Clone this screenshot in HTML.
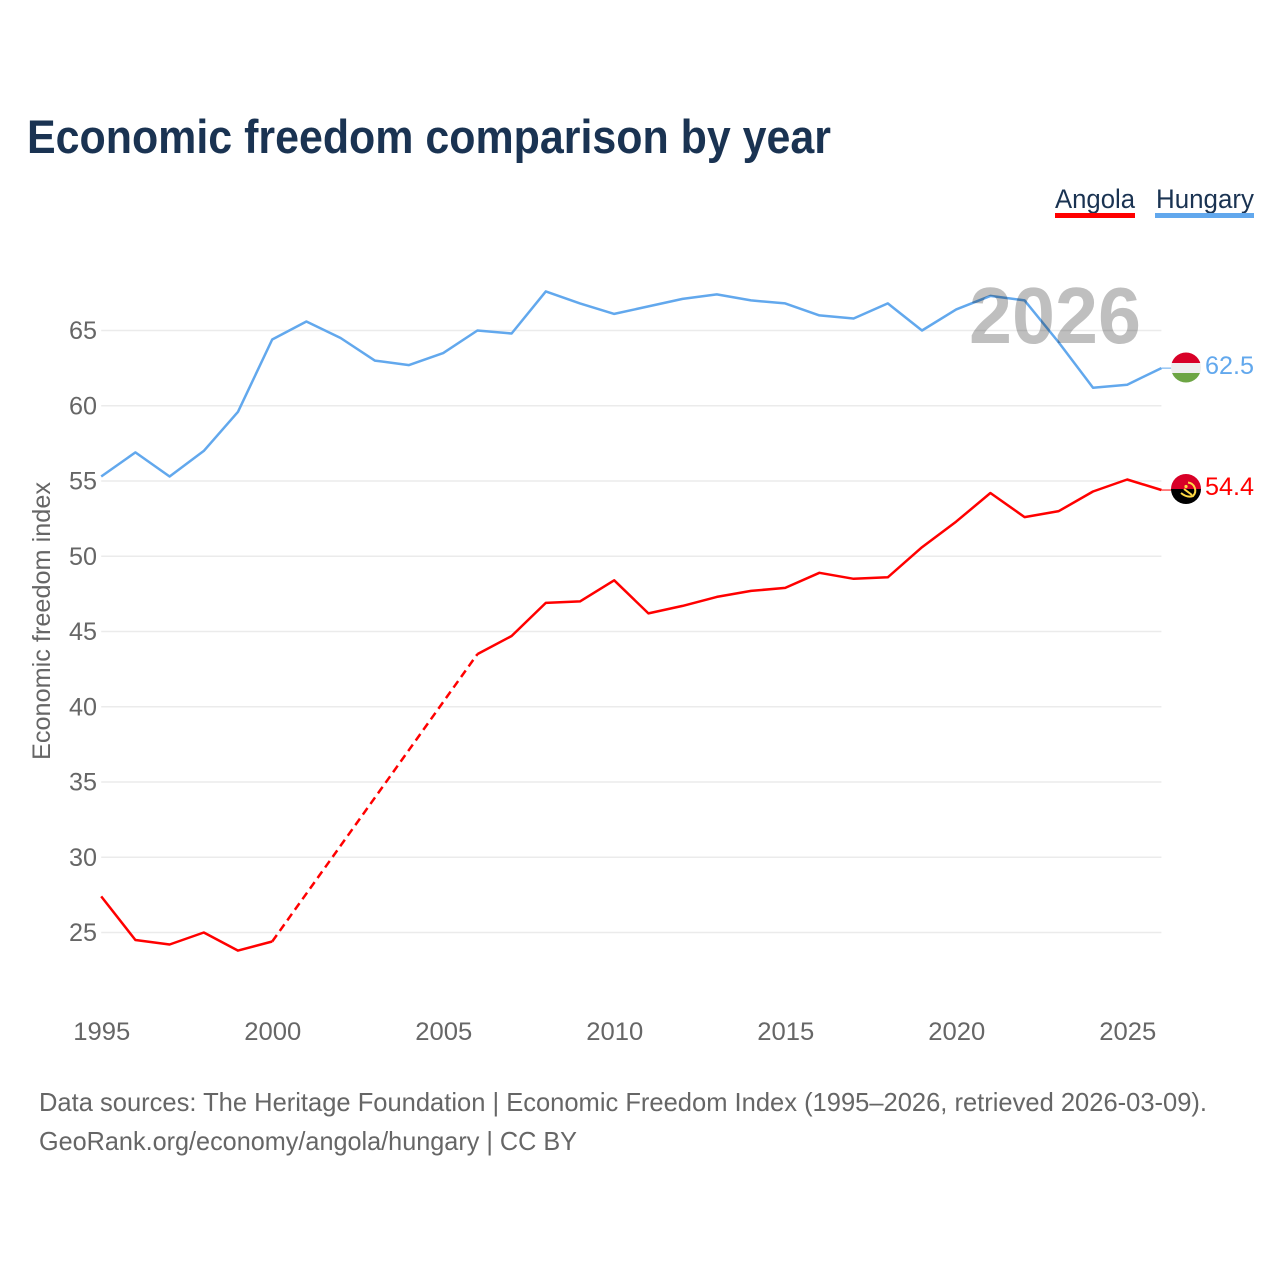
<!DOCTYPE html>
<html lang="en">
<head>
<meta charset="utf-8">
<title>Economic freedom comparison by year</title>
<style>
html,body{margin:0;padding:0;background:#fff;width:1280px;height:1280px;overflow:hidden}
svg{display:block}
text{font-family:"Liberation Sans",sans-serif}
</style>
</head>
<body>
<svg id="chart" width="1280" height="1280" viewBox="0 0 1280 1280" xmlns="http://www.w3.org/2000/svg">
  <defs>
    <clipPath id="clip-hu"><circle cx="1186" cy="367.5" r="15"/></clipPath>
    <clipPath id="clip-ao"><circle cx="1186" cy="489" r="15"/></clipPath>
  </defs>
  <text x="27" y="153" font-size="47" font-weight="700" fill="#1a3352" textLength="804" lengthAdjust="spacingAndGlyphs">Economic freedom comparison by year</text>

  <g>
    <g>
      <text x="1055" y="208" font-size="27" fill="#1a3352" textLength="80" lengthAdjust="spacingAndGlyphs">Angola</text>
      <rect x="1055" y="213" width="80" height="5" fill="#ff0000"/>
    </g>
    <g>
      <text x="1156" y="208" font-size="27" fill="#1a3352" textLength="98" lengthAdjust="spacingAndGlyphs">Hungary</text>
      <rect x="1155" y="213" width="99" height="5" fill="#62a8ed"/>
    </g>
  </g>

  <g id="grid"></g>
  <g id="y-ticks"></g>
  <g id="x-ticks"></g>
  <text transform="translate(50,621) rotate(-90)" text-anchor="middle" font-size="25" fill="#666" textLength="278" lengthAdjust="spacingAndGlyphs">Economic freedom index</text>

  <g id="series"></g>

  <text x="1141" y="343" text-anchor="end" font-size="80" font-weight="700" fill="#000" fill-opacity="0.25" textLength="172" lengthAdjust="spacingAndGlyphs">2026</text>

  <g clip-path="url(#clip-hu)">
    <rect x="1170" y="352" width="32" height="11" fill="#d80027"/>
    <rect x="1170" y="363" width="32" height="10" fill="#eeeeee"/>
    <rect x="1170" y="373" width="32" height="11" fill="#6da544"/>
  </g>
  <g clip-path="url(#clip-ao)">
    <rect x="1170" y="473" width="32" height="16" fill="#d80027"/>
    <rect x="1170" y="489" width="32" height="17" fill="#000000"/>
    <path d="M1188 482.500 A8 8 0 0 1 1193 496 Q1187 498 1181 493" fill="none" stroke="#ffda44" stroke-width="2"/>
    <path d="M1184 489 L1192 495" fill="none" stroke="#ffda44" stroke-width="2"/>
    <circle cx="1186" cy="486.500" r="1.600" fill="#ffda44"/>
  </g>
  <text x="1205" y="374" font-size="25" fill="#62a8ed" textLength="49" lengthAdjust="spacingAndGlyphs">62.5</text>
  <text x="1205" y="495" font-size="25" fill="#ff0000" textLength="49" lengthAdjust="spacingAndGlyphs">54.4</text>

  <text x="39" y="1111" font-size="26" fill="#666" textLength="1168" lengthAdjust="spacingAndGlyphs">Data sources: The Heritage Foundation | Economic Freedom Index (1995–2026, retrieved 2026-03-09).</text>
  <text x="39" y="1150" font-size="26" fill="#666" textLength="538" lengthAdjust="spacingAndGlyphs">GeoRank.org/economy/angola/hungary | CC BY</text>
</svg>
<script>
const years = [1995,1996,1997,1998,1999,2000,2001,2002,2003,2004,2005,2006,2007,2008,2009,2010,2011,2012,2013,2014,2015,2016,2017,2018,2019,2020,2021,2022,2023,2024,2025,2026];
const hungary = [55.3,56.9,55.3,57.0,59.6,64.4,65.6,64.5,63.0,62.7,63.5,65.0,64.8,67.6,66.8,66.1,66.6,67.1,67.4,67.0,66.8,66.0,65.8,66.8,65.0,66.4,67.3,67.0,64.2,61.2,61.4,62.5];
const angola = [27.4,24.5,24.2,25.0,23.8,24.4,null,null,null,null,null,43.5,44.7,46.9,47.0,48.4,46.2,46.7,47.3,47.7,47.9,48.9,48.5,48.6,50.6,52.3,54.2,52.6,53.0,54.3,55.1,54.4];
const yTickValues = [25,30,35,40,45,50,55,60,65];
const xTickValues = [1995,2000,2005,2010,2015,2020,2025];

const NS = 'http://www.w3.org/2000/svg';
function xScale(year){ return 101.2 + (year - 1995) * 34.2; }
function yScale(v){ return 932.5 - (v - 25) * 15.05; }

const grid = document.getElementById('grid');
const yTicks = document.getElementById('y-ticks');
const xTicks = document.getElementById('x-ticks');
const seriesGroup = document.getElementById('series');

yTickValues.forEach(function(v){
  const line = document.createElementNS(NS,'line');
  
  
  line.setAttribute('x1', xScale(1995));
  line.setAttribute('x2', xScale(2026));
  line.setAttribute('y1', yScale(v));
  line.setAttribute('y2', yScale(v));
  line.setAttribute('stroke', '#ebebeb');
  line.setAttribute('stroke-width', '1.5');
  grid.appendChild(line);
  const label = document.createElementNS(NS,'text');
  
  
  label.setAttribute('x', 97);
  label.setAttribute('y', yScale(v) + 8.5);
  label.setAttribute('text-anchor', 'end');
  label.setAttribute('font-size', '25');
  label.setAttribute('fill', '#666');
  label.setAttribute('textLength', '28');
  label.setAttribute('lengthAdjust', 'spacingAndGlyphs');
  label.textContent = v;
  yTicks.appendChild(label);
});

xTickValues.forEach(function(y){
  const label = document.createElementNS(NS,'text');
  
  
  label.setAttribute('x', xScale(y) + 0.6);
  label.setAttribute('y', 1040);
  label.setAttribute('text-anchor', 'middle');
  label.setAttribute('font-size', '25');
  label.setAttribute('fill', '#666');
  label.setAttribute('textLength', '57');
  label.setAttribute('lengthAdjust', 'spacingAndGlyphs');
  label.textContent = y;
  xTicks.appendChild(label);
});

function segments(values){
  const solid = [];
  const gaps = [];
  let cur = [];
  let lastIndex = -1;
  values.forEach(function(v, i){
    if (v === null) {
      if (cur.length) solid.push(cur);
      cur = [];
      return;
    }
    if (lastIndex >= 0 && i - lastIndex > 1) {
      gaps.push([[years[lastIndex], values[lastIndex]], [years[i], v]]);
    }
    cur.push([years[i], v]);
    lastIndex = i;
  });
  if (cur.length) solid.push(cur);
  return {solid: solid, gaps: gaps};
}
function pathD(pts){
  return pts.map(function(p, i){
    return (i ? 'L' : 'M') + xScale(p[0]).toFixed(1) + ' ' + yScale(p[1]).toFixed(1);
  }).join(' ');
}
function drawSeries(values, color, name){
  const parts = segments(values);
  parts.solid.forEach(function(pts){
    const path = document.createElementNS(NS,'path');
    
    
    path.setAttribute('d', pathD(pts));
    path.setAttribute('fill', 'none');
    path.setAttribute('stroke', color);
    path.setAttribute('stroke-width', '2.500');
    path.setAttribute('stroke-linejoin', 'round');
    seriesGroup.appendChild(path);
  });
  parts.gaps.forEach(function(pts){
    const path = document.createElementNS(NS,'path');
    
    
    path.setAttribute('d', pathD(pts));
    path.setAttribute('fill', 'none');
    path.setAttribute('stroke', color);
    path.setAttribute('stroke-width', '2.500');
    path.setAttribute('stroke-dasharray', '8 5');
    seriesGroup.appendChild(path);
  });
  const last = values[values.length - 1];
  const connector = document.createElementNS(NS,'line');
  
  
  connector.setAttribute('x1', xScale(2026));
  connector.setAttribute('x2', xScale(2026) + 10);
  connector.setAttribute('y1', yScale(last));
  connector.setAttribute('y2', yScale(last));
  connector.setAttribute('stroke', color);
  connector.setAttribute('stroke-width', '1');
  seriesGroup.appendChild(connector);
}
drawSeries(hungary, '#62a8ed', 'hungary');
drawSeries(angola, '#ff0000', 'angola');
</script>
</body>
</html>
